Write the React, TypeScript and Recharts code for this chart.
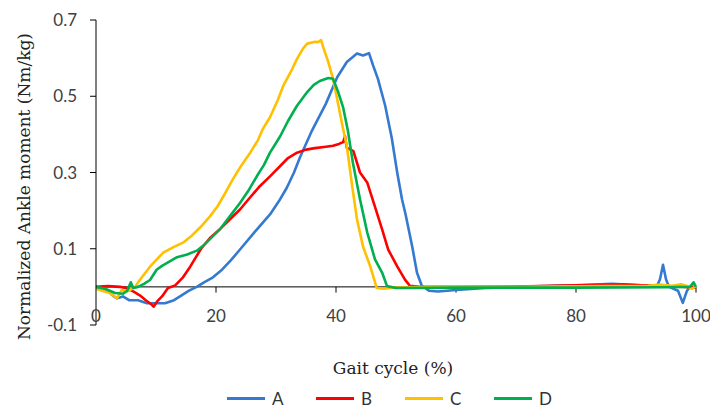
import React from 'react';
import { LineChart, Line, XAxis, YAxis, ReferenceLine, Legend, Label } from 'recharts';

const gaitTicks = [0, 20, 40, 60, 80, 100];
const momentTicks = [-0.1, 0.1, 0.3, 0.5, 0.7];

const aCycle = [0, 1.5, 3, 3.5, 4.5, 5.5, 7, 8.5, 10, 11.5, 13, 14, 15.5, 16.8, 18, 19.5, 21, 22.5, 24, 26.5, 29, 30.5, 31.8, 33, 34, 36, 38.3, 40.2, 41.8, 43.5, 44.5, 45.5, 46.2, 47, 48.2, 49.3, 50.2, 51, 51.6, 52.7, 53.5, 54.3, 55.5, 57, 60, 65, 70, 80, 86, 90, 93.5, 94, 94.5, 95, 95.5, 97, 97.8, 98.5, 99, 100];
const aMoment = [0, -0.005, -0.025, -0.03, -0.025, -0.035, -0.035, -0.043, -0.043, -0.043, -0.035, -0.025, -0.01, 0, 0.012, 0.025, 0.045, 0.07, 0.098, 0.145, 0.19, 0.225, 0.26, 0.3, 0.34, 0.41, 0.48, 0.55, 0.59, 0.612, 0.607, 0.613, 0.58, 0.545, 0.475, 0.39, 0.3, 0.23, 0.19, 0.106, 0.037, 0.003, -0.01, -0.012, -0.008, -0.003, 0, 0.004, 0.008, 0.005, 0.002, 0.02, 0.058, 0.02, 0, -0.01, -0.042, -0.01, 0, 0];

const bCycle = [0, 2, 4, 5, 6.2, 7.3, 8.3, 9.3, 9.6, 10.2, 11, 12, 13.2, 14.5, 15.7, 17.5, 19, 20.7, 22.5, 24, 25.7, 27.3, 29, 30.7, 32, 33.5, 35, 36.5, 38, 39.5, 40.5, 41.2, 41.5, 41.8, 42.9, 44, 45.2, 46.5, 47.7, 48.7, 50.2, 51.5, 52.3, 54, 60, 70, 80, 88, 93, 97, 100];
const bMoment = [0, 0.002, 0, -0.003, -0.012, -0.022, -0.035, -0.047, -0.052, -0.038, -0.025, -0.003, 0.004, 0.025, 0.053, 0.1, 0.128, 0.152, 0.18, 0.203, 0.235, 0.264, 0.29, 0.317, 0.338, 0.352, 0.36, 0.364, 0.367, 0.37, 0.375, 0.38, 0.395, 0.365, 0.356, 0.3, 0.274, 0.21, 0.15, 0.098, 0.054, 0.019, 0.003, 0, 0, 0.001, 0.004, 0.006, 0.003, 0.001, -0.002];

const cCycle = [0, 1, 2.3, 3.5, 4.3, 5, 5.5, 6.5, 7.3, 9, 11.2, 13, 14.5, 16, 17.3, 19, 20.2, 21.5, 22.8, 24.2, 25.7, 27, 27.8, 29, 30.3, 31.2, 32.5, 33.5, 34.5, 35.2, 36.5, 37, 37.5, 37.8, 38.7, 39.5, 40.3, 41.2, 41.8, 42.7, 43.5, 44.5, 45.7, 46.8, 48, 49.5, 55, 70, 85, 92, 94, 96, 97.5, 98.5, 99.3, 100];
const cMoment = [-0.005, -0.01, -0.016, -0.03, -0.008, -0.013, -0.01, 0, 0.018, 0.053, 0.09, 0.105, 0.116, 0.135, 0.155, 0.185, 0.21, 0.245, 0.282, 0.318, 0.352, 0.385, 0.414, 0.445, 0.49, 0.527, 0.565, 0.598, 0.625, 0.638, 0.643, 0.642, 0.647, 0.632, 0.59, 0.546, 0.484, 0.413, 0.37, 0.264, 0.177, 0.106, 0.054, -0.003, -0.005, -0.002, 0, 0, 0.002, 0.003, 0.006, 0.003, 0.007, 0.002, -0.005, 0.002];

const dCycle = [0, 1.5, 3.2, 4.5, 5.2, 5.8, 6.2, 7, 8, 9, 10.1, 11, 12.3, 13.5, 15.2, 16.8, 18, 19.5, 20.7, 22.3, 24, 25.5, 26.8, 28, 29, 30.7, 32, 33.5, 35.2, 36.3, 37.3, 38.7, 39.5, 40.3, 41.2, 42, 42.8, 44, 45.2, 46.5, 47.7, 48.5, 50, 60, 80, 95, 99, 99.6, 100];
const dMoment = [0, -0.005, -0.016, -0.018, -0.01, 0.012, -0.003, 0, 0.008, 0.018, 0.045, 0.055, 0.067, 0.078, 0.085, 0.095, 0.11, 0.133, 0.152, 0.185, 0.22, 0.255, 0.29, 0.32, 0.352, 0.395, 0.435, 0.475, 0.511, 0.53, 0.54, 0.548, 0.546, 0.514, 0.47, 0.408, 0.327, 0.23, 0.143, 0.072, 0.037, 0.002, -0.003, -0.002, -0.002, -0.001, 0, 0.012, 0];

const seriesNames = ['A', 'B', 'C', 'D'];
const seriesCycles = [aCycle, bCycle, cCycle, dCycle];
const seriesMoments = [aMoment, bMoment, cMoment, dMoment];
const seriesColors = ['#3579D1', '#FF0000', '#FFC000', '#00B050'];

const toRows = (xs: number[], ys: number[]) => xs.map((x, i) => ({ cycle: x, moment: ys[i] }));

const GaitTick = (p: any) => (
  <text x={p.x} y={p.y - 10} textAnchor="middle" dominantBaseline="central" fill="#404040" fontSize={17} fontFamily="Lato">
    {p.payload.value}
  </text>
);

const XTitle = (p: any) => {
  const vb = p.viewBox;
  return (
    <text x={vb.x + vb.width / 2 - 3} y={vb.y + 49} textAnchor="middle" fill="#222" fontSize={17} fontFamily="DejaVu Serif">
      Gait cycle (%)
    </text>
  );
};

const YTitle = (p: any) => {
  const vb = p.viewBox;
  const cx = vb.x - 12;
  const cy = vb.y + vb.height / 2 + 14;
  return (
    <text x={cx} y={cy} transform={`rotate(-90 ${cx} ${cy})`} textAnchor="middle" dominantBaseline="central" fill="#222" fontSize={17} fontFamily="DejaVu Serif">
      Normalized Ankle  moment (Nm/kg)
    </text>
  );
};

const renderLegend = (props: any) => (
  <div style={{ height: 30, boxSizing: 'border-box', paddingTop: 12, paddingLeft: 227, display: 'flex', alignItems: 'center' }}>
    {(props.payload || []).map((e: any) => (
      <div key={e.value} style={{ width: 89, height: 18, display: 'flex', alignItems: 'center' }}>
        <span style={{ display: 'inline-block', width: 38, height: 3, background: e.color, marginRight: 7 }} />
        <span style={{ fontFamily: 'Lato', fontSize: 17, color: '#333' }}>{e.value}</span>
      </div>
    ))}
  </div>
);

export default function App() {
  return (
    <div style={{ position: 'absolute', left: 0, top: 0, background: '#fff' }}>
      <LineChart width={710} height={407} margin={{ top: 20, right: 14, bottom: 0, left: 36 }} style={{ fontFamily: 'Lato' }}>
        <XAxis
          type="number"
          dataKey="cycle"
          domain={[0, 100]}
          ticks={gaitTicks}
          interval={0}
          axisLine={false}
          tickLine={false}
          tickSize={0}
          tickMargin={0}
          height={52}
          tick={GaitTick}
        >
          <Label content={XTitle} />
        </XAxis>
        <YAxis
          type="number"
          domain={[-0.1, 0.7]}
          ticks={momentTicks}
          interval={0}
          width={60}
          axisLine={{ stroke: '#000', strokeWidth: 1 }}
          tickLine={{ stroke: '#000', strokeWidth: 1 }}
          tickSize={6}
          tickMargin={13}
          tick={{ fill: '#404040', fontSize: 17, fontFamily: 'Lato' }}
        >
          <Label content={YTitle} />
        </YAxis>
        <ReferenceLine y={0} stroke="#000" strokeWidth={1} />
        {gaitTicks.filter((t) => t > 0).map((t) => (
          <ReferenceLine key={t} segment={[{ x: t, y: 0 }, { x: t, y: -0.015 }]} stroke="#000" strokeWidth={1} />
        ))}
        {seriesNames.map((name, i) => (
          <Line
            key={name}
            data={toRows(seriesCycles[i], seriesMoments[i])}
            dataKey="moment"
            name={name}
            type="linear"
            stroke={seriesColors[i]}
            strokeWidth={2.6}
            strokeLinejoin="round"
            dot={false}
            activeDot={false}
            isAnimationActive={false}
          />
        ))}
        <Legend verticalAlign="bottom" content={renderLegend} wrapperStyle={{ left: 0, bottom: 0, width: 710 }} />
      </LineChart>
    </div>
  );
}
